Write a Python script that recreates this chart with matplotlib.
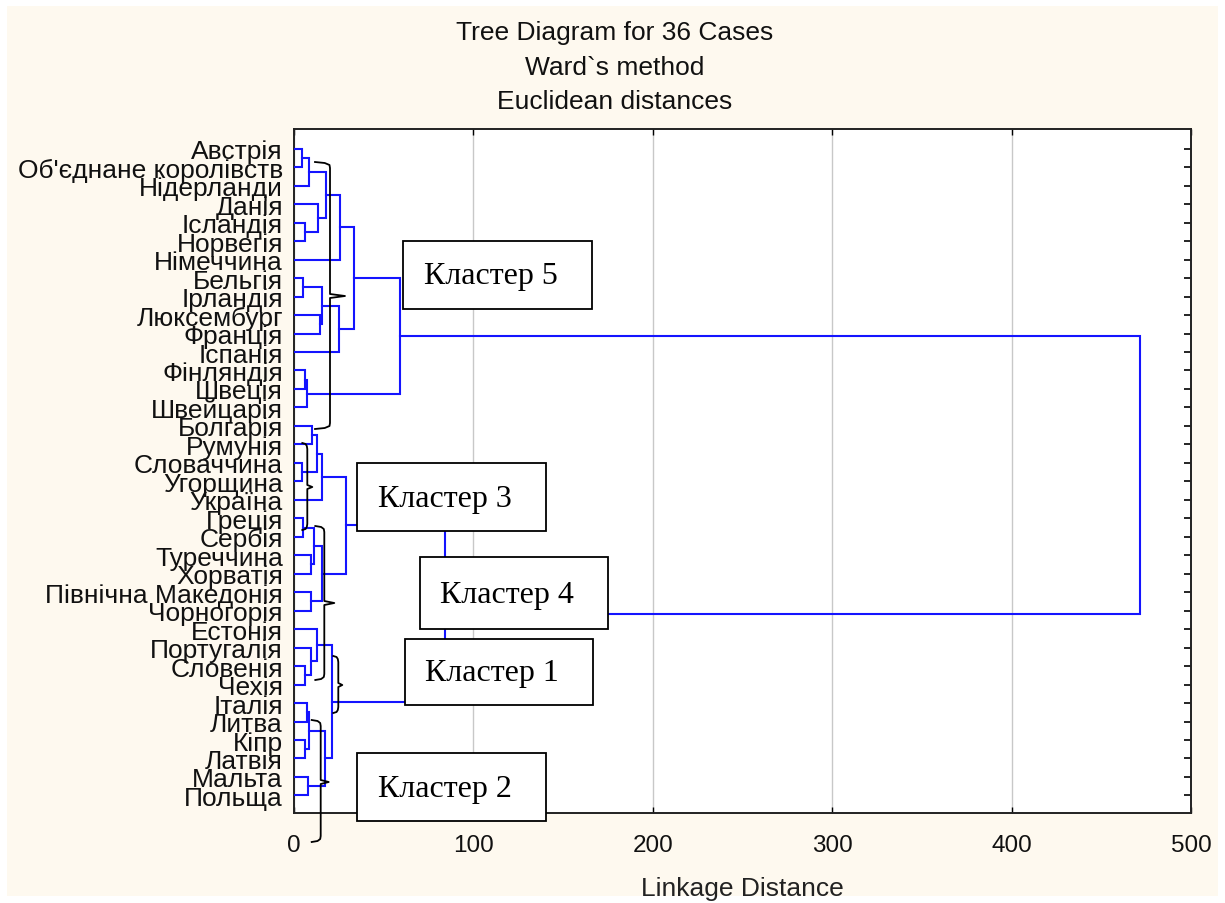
import matplotlib
matplotlib.use("Agg")
import matplotlib.pyplot as plt
from matplotlib.lines import Line2D
from matplotlib.patches import Rectangle

# ---------------- data ----------------
countries = [
    "Австрія", "Об'єднане королівств", "Нідерланди", "Данія", "Ісландія",
    "Норвегія", "Німеччина", "Бельгія", "Ірландія", "Люксембург", "Франція",
    "Іспанія", "Фінляндія", "Швеція", "Швейцарія", "Болгарія", "Румунія",
    "Словаччина", "Угорщина", "Україна", "Греція", "Сербія", "Туреччина",
    "Хорватія", "Північна Македонія", "Чорногорія", "Естонія", "Португалія",
    "Словенія", "Чехія", "Італія", "Литва", "Кіпр", "Латвія", "Мальта", "Польща",
]

# merges: (child_a, child_b, linkage distance); ids >= 36 refer to earlier merges
merge_a = [0, 36, 4, 3, 37, 40, 7, 9, 42, 44, 41, 12, 47, 46,
           15, 17, 50, 52, 20, 22, 54, 24, 56, 53, 28, 27, 26, 30, 32, 63, 34, 65, 62, 59, 49]
merge_b = [1, 2, 5, 38, 39, 6, 8, 10, 43, 11, 45, 13, 14, 48,
           16, 18, 51, 19, 21, 23, 55, 25, 57, 58, 29, 60, 61, 31, 33, 64, 35, 66, 67, 68, 69]
merge_h = [4.5, 8.5, 6.3, 13.2, 17.7, 25.8, 5.2, 14.3, 15.4, 25.1, 33.4, 6.1, 7.1, 59.1,
           10.2, 4.6, 13.0, 15.4, 5.2, 9.3, 11.3, 9.3, 15.4, 29.0, 6.1, 9.3, 12.6, 7.0, 6.1,
           8.4, 8.0, 17.3, 21.0, 84.1, 471.3]

x_ticks = [0, 100, 200, 300, 400, 500]

cluster_labels = ["Кластер 5", "Кластер 3", "Кластер 4", "Кластер 1", "Кластер 2"]

# ---------------- figure ----------------
W, H = 1225, 904
fig = plt.figure(figsize=(W / 100, H / 100), dpi=100, facecolor="white")

def fx(x):
    return x / W

def fy(y):
    return 1 - y / H

SANS = ["Liberation Sans", "DejaVu Sans"]

# cream background
fig.patches.append(Rectangle((fx(7), fy(897)), (W - 14) / W, (897 - 7) / H,
                             transform=fig.transFigure, facecolor="#FEF9EF",
                             edgecolor="none", zorder=-10))

ax = fig.add_axes([fx(294), fy(814), (1191 - 294) / W, (814 - 130) / H])
ax.set_facecolor("white")

# dendrogram
n = len(countries)
pos = {i: float(i) for i in range(n)}
hgt = {i: 0.0 for i in range(n)}
for k, (a, b, h) in enumerate(zip(merge_a, merge_b, merge_h)):
    node = n + k
    ya, yb = pos[a], pos[b]
    ax.plot([hgt[a], h, h, hgt[b]], [ya, ya, yb, yb], color="#1414FF", lw=1.5,
            solid_joinstyle="miter", zorder=3)
    pos[node] = (ya + yb) / 2
    hgt[node] = h

ax.set_xlim(0, 500)
ax.set_ylim(35.95, -1.07)
ax.set_yticks(range(n))
ax.set_yticklabels(countries, fontsize=19, family=SANS, color="#111111")
ax.set_xticks(x_ticks)
ax.set_xticklabels([str(t) for t in x_ticks], fontsize=17.5, family=SANS, color="#111111")
ax.tick_params(axis="y", direction="in", length=5, width=1.2, left=True, right=True, pad=8)
ax.tick_params(axis="x", direction="in", length=4, width=1.0, top=True, bottom=True, pad=15)
ax.grid(axis="x", color="#C8C8C8", lw=1.0, zorder=0)
ax.set_axisbelow(True)
for s in ax.spines.values():
    s.set_linewidth(1.4)
    s.set_color("#222222")

ax.set_xlabel("Linkage Distance", fontsize=19, family=SANS, labelpad=14.5, color="#222222")

# titles
for txt, y in [("Tree Diagram for 36 Cases", 33), ("Ward`s method", 68),
               ("Euclidean distances", 102)]:
    fig.text(fx(615), fy(y), txt, ha="center", va="center", fontsize=19,
             family=SANS, color="#111111")

# braces
def brace(x, y1, y2, yt, hook, tip):
    r = min(6, (y2 - y1) / 4)
    xs = [x - hook, x - hook * 0.35, x - 0.5, x, x, x + tip, x, x, x - 0.5, x - hook * 0.35, x - hook]
    ys = [y1, y1 + 1, y1 + r * 0.5, y1 + r, yt - 2, yt, yt + 2, y2 - r, y2 - r * 0.5, y2 - 1, y2]
    fig.add_artist(Line2D([fx(v) for v in xs], [fy(v) for v in ys],
                          transform=fig.transFigure, color="black", lw=1.3, zorder=4))

brace(330, 163, 430, 297, 15, 15)
brace(307.3, 444, 531, 488, 5, 5)
brace(324.3, 527, 681, 604, 9, 10)
brace(338.3, 657, 714, 686, 5, 4)
brace(320.7, 721, 843, 783, 9, 8)

# cluster boxes
boxes = [(403, 242, 592, 310), (357, 464, 546, 532), (420, 558, 608, 630),
         (405, 640, 593, 706), (357, 754, 546, 822)]
for (x0, y0, x1, y1), lab in zip(boxes, cluster_labels):
    fig.patches.append(Rectangle((fx(x0), fy(y1)), (x1 - x0) / W, (y1 - y0) / H,
                                 transform=fig.transFigure, facecolor="white",
                                 edgecolor="black", lw=1.3, zorder=5))
    fig.text(fx((x0 + x1) / 2 - 7), fy((y0 + y1) / 2 + 1), lab, ha="center", va="center",
             fontsize=23, family=["Liberation Serif", "DejaVu Serif"], color="black",
             zorder=6)

fig.savefig("out.png", dpi=100, facecolor=fig.get_facecolor())
